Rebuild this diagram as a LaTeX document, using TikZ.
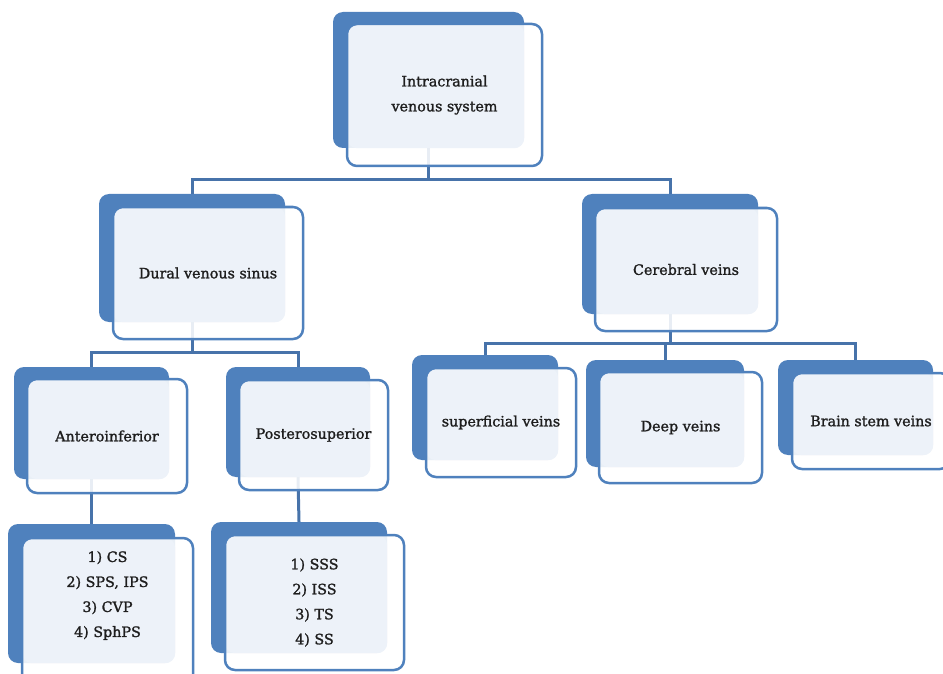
\documentclass[tikz,border=0pt]{standalone}
\usepackage{fontspec}
\setmainfont[FakeBold=1.4]{DejaVu Serif}
\usetikzlibrary{backgrounds}

\definecolor{boxblue}{HTML}{4F81BD}
\definecolor{linkblue}{HTML}{4773AA}
\definecolor{paleblue}{HTML}{EDF2F9}
\definecolor{inktext}{HTML}{1E1E1E}

\tikzstyle{backbox}=[shape=rectangle,rounded corners=10pt,fill=boxblue,inner sep=0pt]
\tikzstyle{frontbox}=[shape=rectangle,rounded corners=10pt,draw=boxblue,line width=2.5pt,
    fill=white,fill opacity=0.88,text opacity=1,inner sep=0pt,align=center,text=inktext,
    font=\fontsize{14.3}{25}\selectfont]
\tikzstyle{itemtext}=[align=center,text=inktext,font=\fontsize{14.3}{25}\selectfont]
\tikzstyle{link}=[draw=linkblue,line width=3pt]
\tikzset{over/.style={path picture={
    \fill[paleblue,fill opacity=1,rounded corners=10pt]
        (path picture bounding box.north west) rectangle (#1.south east);}}}

\begin{document}
\begin{tikzpicture}[x=1pt,y=-1pt]
\useasboundingbox (0,0) rectangle (943,674);
% top
\node[backbox,minimum width=191,minimum height=136] (ivs_b) at (428.5,80) {};
\node[frontbox,over=ivs_b,minimum width=195,minimum height=142] (ivs) at (444.5,95)
    {Intracranial\\venous system};
% 2nd row
\node[backbox,minimum width=186,minimum height=128] (dural_b) at (192,258) {};
\node[frontbox,over=dural_b,minimum width=190,minimum height=132] (dural) at (208,273)
    {Dural venous sinus};
\node[backbox,minimum width=176,minimum height=120] (cereb_b) at (670,254) {};
\node[frontbox,over=cereb_b,minimum width=182,minimum height=123] (cereb) at (686,269.5)
    {Cerebral veins};
% 3rd row
\node[backbox,minimum width=155,minimum height=112] (ant_b) at (91.5,423) {};
\node[frontbox,over=ant_b,minimum width=160,minimum height=114] (ant) at (107,436)
    {Anteroinferior};
\node[backbox,minimum width=144,minimum height=110] (post_b) at (298,422) {};
\node[frontbox,over=post_b,minimum width=149,minimum height=110] (post) at (313.5,435)
    {Posterosuperior};
\node[backbox,minimum width=146,minimum height=105] (sup_b) at (485,407.5) {};
\node[frontbox,over=sup_b,minimum width=150,minimum height=109] (sup) at (501,422.5)
    {superficial veins};
\node[backbox,minimum width=158,minimum height=107] (deep_b) at (665,413.5) {};
\node[frontbox,over=deep_b,minimum width=163,minimum height=111] (deep) at (680.5,427.5)
    {Deep veins};
\node[backbox,minimum width=155,minimum height=95] (brain_b) at (855.5,407.5) {};
\node[frontbox,over=brain_b,minimum width=158,minimum height=96] (brain) at (871,421)
    {Brain stem veins};
% 4th row
\node[backbox,minimum width=167,minimum height=139] (lst1_b) at (91.5,593.5) {};
\node[frontbox,over=lst1_b,minimum width=171,minimum height=148] (lst1) at (107.5,612) {};
\node[itemtext] (lst1_t) at (107.5,595.5) {1) CS\\2) SPS, IPS\\3) CVP\\4) SphPS};
\node[backbox,minimum width=176,minimum height=131] (lst2_b) at (299,587.5) {};
\node[frontbox,over=lst2_b,minimum width=179,minimum height=135] (lst2) at (314.5,602.5) {};
\node[itemtext] (lst2_t) at (314.5,602.5) {1) SSS\\2) ISS\\3) TS\\4) SS};
% connectors
\begin{scope}[on background layer]
\draw[link] (ivs_b.south) -- ++(0,31) -| (dural_b.north);
\draw[link] (ivs_b.south) -- ++(0,31) -| (cereb_b.north);
\draw[link] (dural_b.south) -- ++(0,30) -| (ant_b.north);
\draw[link] (dural_b.south) -- ++(0,30) -| (post_b.north);
\draw[link] (cereb_b.south) -- ++(0,29) -| (sup_b.north);
\draw[link] (cereb_b.south) -- ++(0,29) -| (deep_b.north);
\draw[link] (cereb_b.south) -- ++(0,29) -| (brain_b.north);
\draw[link] (ant_b.south) -- (lst1_b.north);
\draw[link] (post_b.south) -- (lst2_b.north);
\end{scope}
\end{tikzpicture}
\end{document}
